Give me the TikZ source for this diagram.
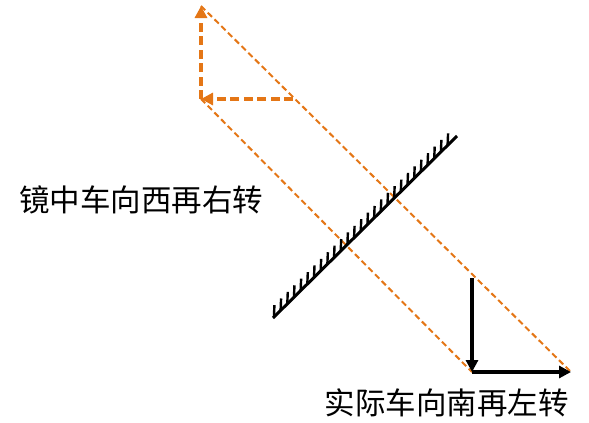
\documentclass[tikz,border=0pt]{standalone}
\usepackage{fontspec}
\newfontfamily\cjk{Noto Sans CJK SC}
\usetikzlibrary{arrows.meta,calc}
\definecolor{org}{RGB}{228,118,22}
\tikzset{
  ray/.style={draw=org, line width=2pt, dash pattern=on 6pt off 3.5pt},
  oarrow/.style={draw=org, line width=3.6pt, dash pattern=on 9pt off 4.5pt, -{Triangle[length=12pt,width=12pt]}},
  karrow/.style={draw=black, line width=3.6pt, -{Triangle[length=12pt,width=12pt]}},
  mirror/.style={draw=black, line width=3pt},
  hatch/.style={draw=black, line width=2.4pt},
  lbl/.style={font=\cjk\fontsize{30.5}{31}\selectfont, inner sep=0pt}
}
\begin{document}
\begin{tikzpicture}[x=1pt,y=-1pt]
\useasboundingbox (0,0) rectangle (589,423);
% points
\coordinate (vt) at (201,6);
\coordinate (vc) at (201,99);
\coordinate (vh) at (293,99);
\coordinate (rc) at (472,278);
\coordinate (rb) at (472,372);
\coordinate (rh) at (571,372);
\coordinate (m1) at (273,318);
\coordinate (m2) at (457,136);
% rays
\draw[ray] (vt) -- (rh);
\draw[ray] (vc) -- (rb);
% mirror
\draw[mirror] (m1) -- (m2);
\foreach \k in {0,...,26}{
  \draw[hatch] ($(m1)!{0.005+\k*0.0363}!(m2)$) -- ++(0.5,-12);
}
% image arrows
\draw[oarrow] (vc) -- (vt);
\draw[oarrow] (vh) -- (vc);
% real arrows
\draw[karrow] (rc) -- (rb);
\draw[karrow] (rb) -- (rh);
% labels
\node[lbl] (img) at (141.5,200) {镜中车向西再右转};
\node[lbl] (real) at (446.5,403) {实际车向南再左转};
\end{tikzpicture}
\end{document}
